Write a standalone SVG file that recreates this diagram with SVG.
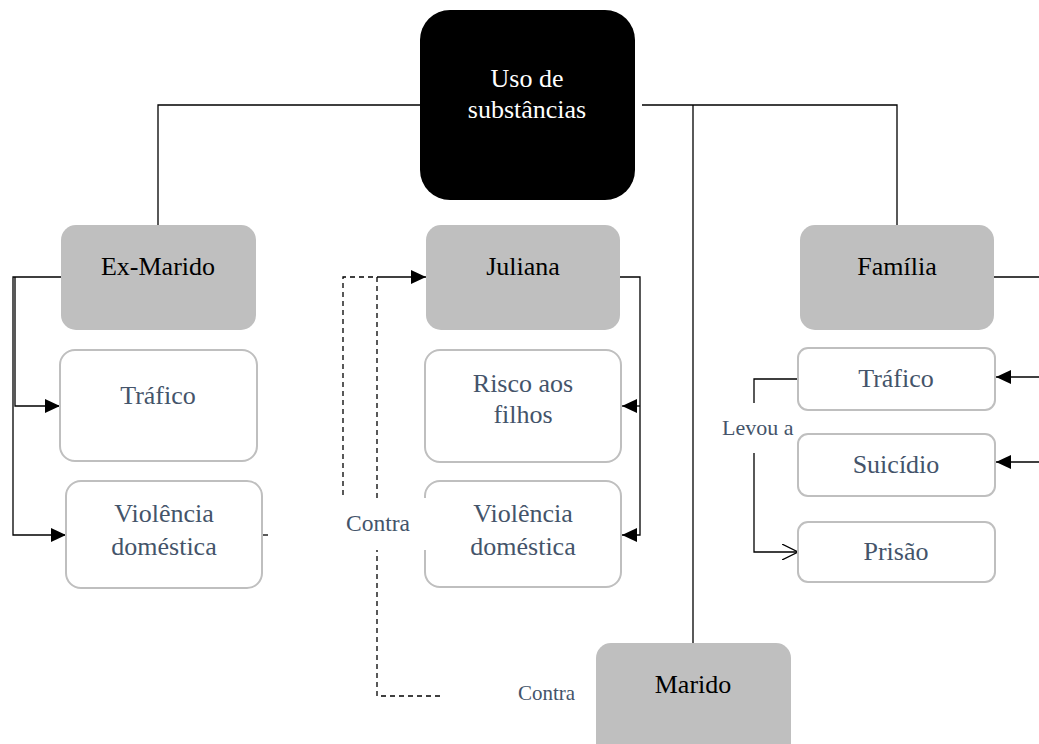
<svg xmlns="http://www.w3.org/2000/svg" width="1039" height="744" viewBox="0 0 1039 744" font-family="'Liberation Serif', 'Times New Roman', serif">
  <style>
    .root { fill: #000000; }
    .main { fill: #bfbfbf; }
    .sub { fill: #ffffff; stroke: #bfbfbf; stroke-width: 2; }
    text { font-family: 'Liberation Serif', 'Times New Roman', serif; }
    .nt { font-size: 26px; text-anchor: middle; }
    .tw { fill: #ffffff; }
    .tb { fill: #000000; }
    .ts { fill: #44546a; }
    .lbl { font-size: 22px; fill: #44546a; }
    .ln { fill: none; stroke: #000000; stroke-width: 1.3; }
    .dash { fill: none; stroke: #000000; stroke-width: 1.3; stroke-dasharray: 5 4; }
  </style>
  <defs>
    <marker id="arrow" viewBox="0 0 10 10" refX="10" refY="5" markerWidth="15" markerHeight="14" markerUnits="userSpaceOnUse" orient="auto" preserveAspectRatio="none">
      <path d="M0,0 L10,5 L0,10 Z" fill="#000000"/>
    </marker>
    <marker id="open" viewBox="0 0 10 10" refX="10" refY="5" markerWidth="16" markerHeight="16" markerUnits="userSpaceOnUse" orient="auto">
      <path d="M0,0 L10,5 L0,10" fill="none" stroke="#000000" stroke-width="0.8"/>
    </marker>
  </defs>

  <rect width="1039" height="744" fill="#ffffff"/>

  <!-- connectors -->
  <g id="connectors">
    <!-- root to the three branches -->
    <path class="ln" d="M420,105 H158 V225"/>
    <path class="ln" d="M642,105 H897 V225"/>
    <path class="ln" d="M693,105 V643"/>
    <!-- Ex-Marido to its children -->
    <path class="ln" d="M61,277 H13 V535 H66" marker-end="url(#arrow)"/>
    <path class="ln" d="M15,277 V406 H60" marker-end="url(#arrow)"/>
    <path class="ln" d="M262,535 H268"/>
    <!-- Juliana to her children -->
    <path class="ln" d="M620,277 H640 V535 H622" marker-end="url(#arrow)"/>
    <path class="ln" d="M640,406 H622" marker-end="url(#arrow)"/>
    <!-- Contra loops back to Juliana -->
    <path class="dash" d="M343,495 V277 H377"/>
    <path class="dash" d="M440,696 H377 V277"/>
    <path class="ln" d="M377,277 H426" marker-end="url(#arrow)"/>
    <!-- Família to its children -->
    <path class="ln" d="M994,277 H1039"/>
    <path class="ln" d="M1039,377 H996" marker-end="url(#arrow)"/>
    <path class="ln" d="M1039,462 H996" marker-end="url(#arrow)"/>
    <!-- Levou a -->
    <path class="ln" d="M798,379 H754 V403"/>
    <path class="ln" d="M754,453 V552 H798" marker-end="url(#open)"/>
  </g>

  <g id="root-node">
    <rect class="root" x="420" y="10" width="215" height="190" rx="30"/>
    <text class="nt tw" x="527" y="87">Uso de</text>
    <text class="nt tw" x="527" y="118">substâncias</text>
  </g>

  <g id="ex-marido">
    <rect class="main" x="61" y="225" width="195" height="105" rx="15"/>
    <text class="nt tb" x="158" y="275">Ex-Marido</text>
  </g>
  <g id="ex-trafico">
    <rect class="sub" x="60" y="350" width="197" height="111" rx="15"/>
    <text class="nt ts" x="158" y="404">Tráfico</text>
  </g>
  <g id="ex-violencia">
    <rect class="sub" x="66" y="481" width="196" height="107" rx="15"/>
    <text class="nt ts" x="164" y="522">Violência</text>
    <text class="nt ts" x="164" y="555">doméstica</text>
  </g>

  <g id="juliana">
    <rect class="main" x="426" y="225" width="194" height="105" rx="15"/>
    <text class="nt tb" x="523" y="275">Juliana</text>
  </g>
  <g id="risco">
    <rect class="sub" x="425" y="350" width="196" height="112" rx="15"/>
    <text class="nt ts" x="523" y="392">Risco aos</text>
    <text class="nt ts" x="523" y="423">filhos</text>
  </g>
  <g id="jul-violencia">
    <rect class="sub" x="425" y="481" width="196" height="106" rx="15"/>
    <text class="nt ts" x="523" y="522">Violência</text>
    <text class="nt ts" x="523" y="555">doméstica</text>
  </g>
  <g id="contra-juliana">
    <rect x="336" y="498" width="90" height="52" fill="#ffffff"/>
    <text class="lbl" x="346" y="531" style="font-size:23.5px">Contra</text>
  </g>

  <g id="familia">
    <rect class="main" x="800" y="225" width="194" height="105" rx="15"/>
    <text class="nt tb" x="897" y="275">Família</text>
  </g>
  <g id="fam-trafico">
    <rect class="sub" x="798" y="348" width="197" height="62" rx="10"/>
    <text class="nt ts" x="896" y="387">Tráfico</text>
  </g>
  <g id="fam-suicidio">
    <rect class="sub" x="798" y="434" width="197" height="62" rx="10"/>
    <text class="nt ts" x="896" y="473">Suicídio</text>
  </g>
  <g id="fam-prisao">
    <rect class="sub" x="798" y="522" width="197" height="60" rx="10"/>
    <text class="nt ts" x="896" y="560">Prisão</text>
  </g>
  <g id="levou-a">
    <text class="lbl" x="722" y="435">Levou a</text>
  </g>

  <g id="marido">
    <rect class="main" x="596" y="643" width="195" height="115" rx="15"/>
    <text class="nt tb" x="693" y="693">Marido</text>
  </g>
  <g id="contra-marido">
    <text class="lbl" x="518" y="700" style="font-size:21px">Contra</text>
  </g>
</svg>
